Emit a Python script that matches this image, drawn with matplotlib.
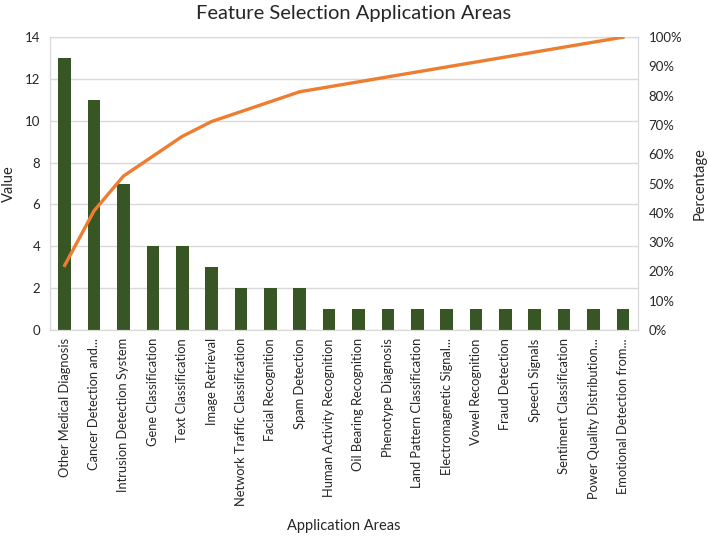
import matplotlib.pyplot as plt
import numpy as np
from matplotlib.ticker import PercentFormatter

plt.rcParams['font.family'] = ['Lato', 'DejaVu Sans']

# data
areas = ["Other Medical Diagnosis", "Cancer Detection and...", "Intrusion Detection System",
         "Gene Classification", "Text Classification", "Image Retrieval",
         "Network Traffic Classification", "Facial Recognition", "Spam Detection",
         "Human Activity Recognition", "Oil Bearing Recognition", "Phenotype Diagnosis",
         "Land Pattern Classification", "Electromagnetic Signal...", "Vowel Recognition",
         "Fraud Detection", "Speech Signals", "Sentiment Classification",
         "Power Quality Distribution...", "Emotional Detection from..."]
values = [13, 11, 7, 4, 4, 3, 2, 2, 2, 1, 1, 1, 1, 1, 1, 1, 1, 1, 1, 1]

cum_pct = np.cumsum(values) / np.sum(values)

fig = plt.figure(figsize=(7.08, 5.39), dpi=100)
ax = fig.add_axes([0.0706, 0.388, 0.83, 0.543])
x = np.arange(len(areas))

ax.bar(x, values, width=0.43, color='#375623', zorder=2)
ax.set_xlim(-0.5, len(areas) - 0.5)
ax.set_ylim(0, 14)
ax.set_yticks(range(0, 15, 2))
ax.grid(axis='y', color='#D9D9D9', linewidth=1, zorder=0)
ax.set_xticks(x)
ax.set_xticklabels(areas, rotation=90, fontsize=9.3, color='#262626')
ax.tick_params(axis='y', labelsize=9.5, labelcolor='#262626', length=0, pad=7)
ax.tick_params(axis='x', length=0, pad=6)
for s in ax.spines.values():
    s.set_color('#D9D9D9')
ax.set_ylabel('Value', fontsize=10.5, color='#262626')
ax.yaxis.set_label_coords(-0.058, 0.5)
ax.set_xlabel('Application Areas', fontsize=10.5, color='#262626')
ax.xaxis.set_label_coords(0.5, -0.645)

ax2 = ax.twinx()
ax2.plot(x, cum_pct, color='#ED7D31', linewidth=2.4, zorder=3)
ax2.set_ylim(0, 1)
ax2.set_yticks(np.linspace(0, 1, 11))
ax2.yaxis.set_major_formatter(PercentFormatter(1.0, decimals=0))
ax2.tick_params(axis='y', labelsize=9.5, labelcolor='#262626', length=0, pad=8)
for s in ax2.spines.values():
    s.set_color('#D9D9D9')
ax2.set_ylabel('Percentage', fontsize=10.5, color='#262626')
ax2.yaxis.set_label_coords(1.093, 0.5)

fig.suptitle('Feature Selection Application Areas', fontsize=14.5, color='#262626', y=0.99)

fig.savefig('out.png', dpi=100)
